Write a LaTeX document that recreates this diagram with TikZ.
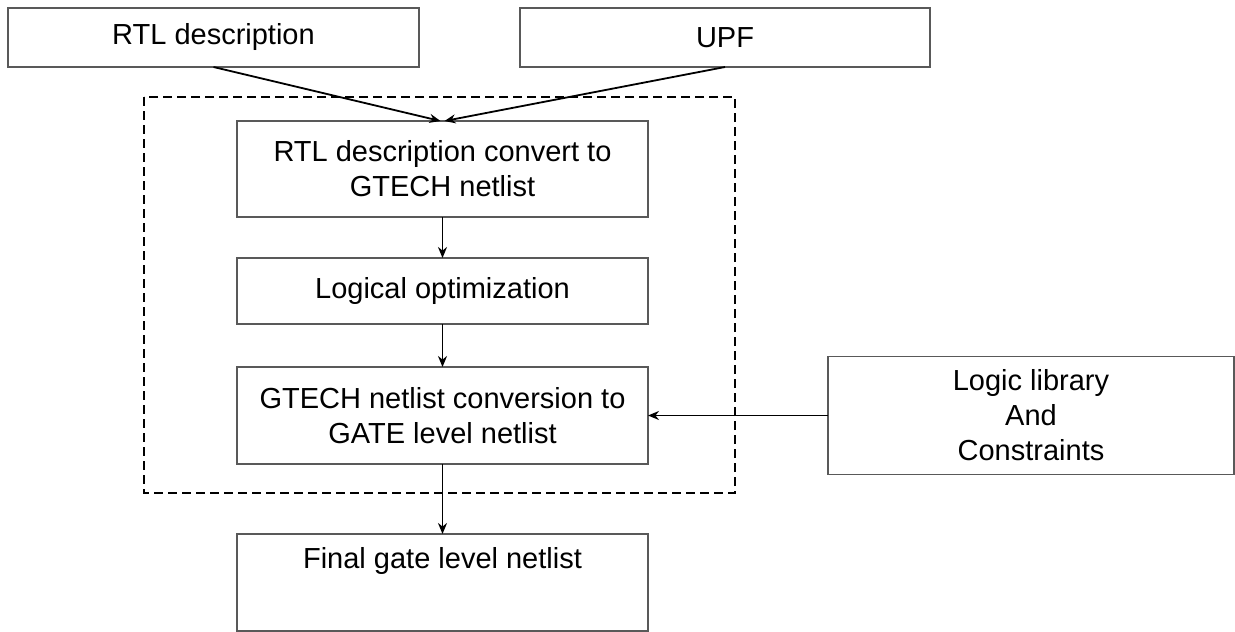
\documentclass[tikz,border=0pt]{standalone}
\usepackage{fontspec}
\setmainfont{Liberation Sans}
\usetikzlibrary{arrows.meta,positioning,calc}

\begin{document}
\begin{tikzpicture}[
        x=1pt, y=1pt,
        node distance=40pt,
        box/.style={rectangle, draw=black!65, line width=1.6pt, fill=white, outer sep=0pt, minimum width=411pt, minimum height=59pt, align=center, font=\fontsize{29}{35}\selectfont},
        flow/.style={-{Stealth[length=11pt, width=9pt]}, line width=1.8pt, black},
        group/.style={dashed, line width=1.8pt, dash pattern=on 9pt off 5pt}
    ]
    \useasboundingbox (0,0) rectangle (1235,-632);

    % Inputs
    \node[box] (rtl) at (213.5,-37.5) {RTL description};
    \node[box, minimum width=410pt] (upf) at (725,-37.5) {UPF};

    % Synthesis steps
    \node[box, minimum height=96pt] (convert) at (442.5,-169) {RTL description convert to\\GTECH netlist};
    \node[box, minimum height=66pt, below=41pt of convert] (logopt) {Logical optimization};
    \node[box, minimum height=97pt, below=43pt of logopt] (gateconv) {GTECH netlist conversion to\\GATE level netlist};

    % Library
    \node[box, minimum width=406pt, minimum height=118pt, right=180pt of gateconv] (loglib) {Logic library\\And\\Constraints};

    % Output
    \node[box, minimum height=97pt, text height=21pt, text depth=49pt, inner ysep=13.5pt, below=70pt of gateconv] (final) {Final gate level netlist};

    % Synthesis boundary
    \draw[group] ($(convert.north west)+(-93,24)$) rectangle ($(gateconv.south east)+(87,-29)$);

    % Connections
    \draw[flow] (rtl.south) -- ($(convert.north)+(-2,0)$);
    \draw[flow] (upf.south) -- ($(convert.north)+(2,0)$);
    \draw[flow] (convert) -- (logopt);
    \draw[flow] (logopt) -- (gateconv);
    \draw[flow] (gateconv) -- (final);
    \draw[flow] (loglib) -- (gateconv);

\end{tikzpicture}
\end{document}
